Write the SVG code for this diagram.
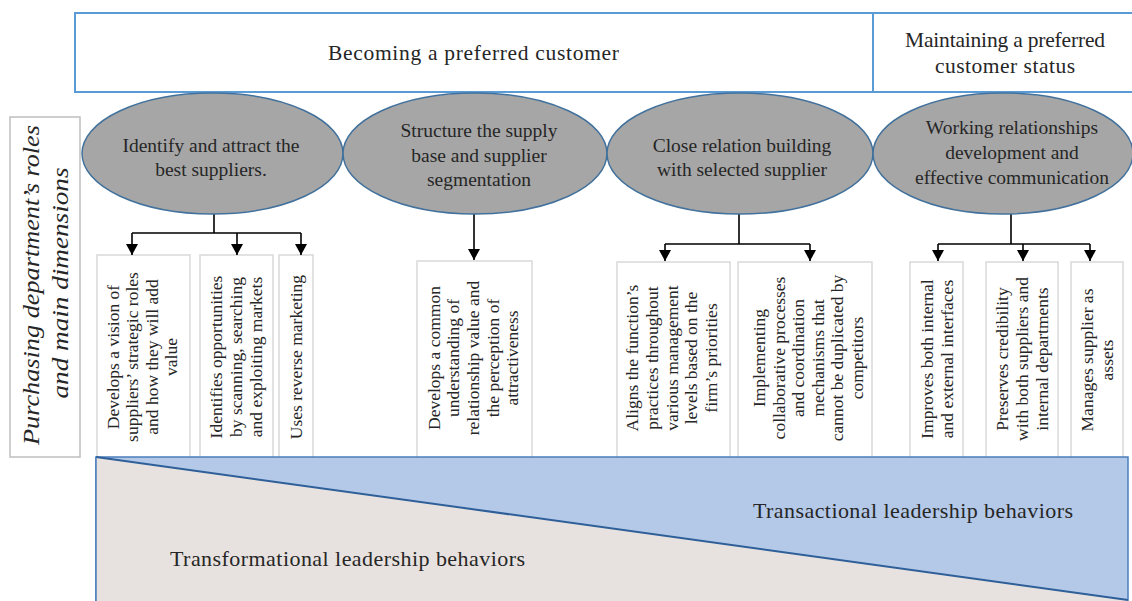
<svg xmlns="http://www.w3.org/2000/svg" width="1132" height="601" viewBox="0 0 1132 601">
<defs>
<marker id="arr" markerUnits="userSpaceOnUse" markerWidth="12" markerHeight="12" viewBox="0 0 12 12" refX="11" refY="6" orient="auto">
<path d="M0,0 L11,6 L0,12 Z" fill="#000"/>
</marker>
<style>
.t{font-family:"Liberation Serif","Times New Roman",serif;fill:#262626}
.hd{font-size:21.5px;text-anchor:middle}
.el{font-size:19.5px;text-anchor:middle}
.bx{font-size:17.5px;text-anchor:middle}
.bt{font-size:22px}
.ell{fill:#a6a6a6;stroke:#41719c;stroke-width:1.5}
.box{fill:#fff;stroke:#d9d9d9;stroke-width:1.5}
.conn{fill:none;stroke:#000;stroke-width:1.6}
</style>
</defs>
<rect width="1132" height="601" fill="#fff"/>

<g id="header">
<rect x="75" y="13" width="1070" height="79" fill="#fff" stroke="#5b9bd5" stroke-width="2"/>
<line x1="873" y1="13" x2="873" y2="92" stroke="#5b9bd5" stroke-width="2"/>
<text class="t hd" x="473.5" y="60" textLength="291" lengthAdjust="spacing">Becoming a preferred customer</text>
<text class="t hd" x="1005" y="47" textLength="200" lengthAdjust="spacing">Maintaining a preferred</text>
<text class="t hd" x="1005" y="73" textLength="140" lengthAdjust="spacing">customer status</text>
</g>

<g id="side-label">
<rect x="10" y="117" width="70" height="340" fill="#fff" stroke="#bfbfbf" stroke-width="1.5"/>
<text class="t" font-style="italic" font-size="23" text-anchor="middle" transform="translate(39,285) rotate(-90)" textLength="320" lengthAdjust="spacingAndGlyphs">Purchasing department’s roles</text>
<text class="t" font-style="italic" font-size="23" text-anchor="middle" transform="translate(68,283) rotate(-90)" textLength="231" lengthAdjust="spacingAndGlyphs">and main dimensions</text>
</g>

<g id="boxes">
<g id="b1"><rect class="box" x="97" y="255" width="93" height="205"/>
<text class="t bx" transform="translate(118.6,357) rotate(-90)">Develops a vision of</text>
<text class="t bx" transform="translate(138.2,357) rotate(-90)">suppliers’ strategic roles</text>
<text class="t bx" transform="translate(157.8,357) rotate(-90)">and how they will add</text>
<text class="t bx" transform="translate(177.4,357) rotate(-90)">value</text></g>
<g id="b2"><rect class="box" x="200" y="255" width="73" height="205"/>
<text class="t bx" transform="translate(222.4,357) rotate(-90)">Identifies opportunities</text>
<text class="t bx" transform="translate(242,357) rotate(-90)">by scanning, searching</text>
<text class="t bx" transform="translate(261.6,357) rotate(-90)">and exploiting markets</text></g>
<g id="b3"><rect class="box" x="279" y="255" width="34" height="205"/>
<text class="t bx" transform="translate(302,357) rotate(-90)">Uses reverse marketing</text></g>
<g id="b4"><rect class="box" x="417" y="261" width="115" height="199"/>
<text class="t bx" transform="translate(439.8,358) rotate(-90)">Develops a common</text>
<text class="t bx" transform="translate(459.4,358) rotate(-90)">understanding of</text>
<text class="t bx" transform="translate(479,358) rotate(-90)">relationship value and</text>
<text class="t bx" transform="translate(498.6,358) rotate(-90)">the perception of</text>
<text class="t bx" transform="translate(518.2,358) rotate(-90)">attractiveness</text></g>
<g id="b5"><rect class="box" x="617" y="262" width="113" height="198"/>
<text class="t bx" transform="translate(638.3,358) rotate(-90)">Aligns the function’s</text>
<text class="t bx" transform="translate(657.9,358) rotate(-90)">practices throughout</text>
<text class="t bx" transform="translate(677.5,358) rotate(-90)">various management</text>
<text class="t bx" transform="translate(697.1,358) rotate(-90)">levels based on the</text>
<text class="t bx" transform="translate(716.7,358) rotate(-90)">firm’s priorities</text></g>
<g id="b6"><rect class="box" x="738" y="262" width="134" height="198"/>
<text class="t bx" transform="translate(765,358) rotate(-90)">Implementing</text>
<text class="t bx" transform="translate(784.6,358) rotate(-90)">collaborative processes</text>
<text class="t bx" transform="translate(804.2,358) rotate(-90)">and coordination</text>
<text class="t bx" transform="translate(823.8,358) rotate(-90)">mechanisms that</text>
<text class="t bx" transform="translate(843.4,358) rotate(-90)">cannot be duplicated by</text>
<text class="t bx" transform="translate(863,358) rotate(-90)">competitors</text></g>
<g id="b7"><rect class="box" x="910" y="262" width="53" height="198"/>
<text class="t bx" transform="translate(933.2,359) rotate(-90)">Improves both internal</text>
<text class="t bx" transform="translate(952.8,359) rotate(-90)">and external interfaces</text></g>
<g id="b8"><rect class="box" x="986" y="262" width="72" height="198"/>
<text class="t bx" transform="translate(1008.4,359) rotate(-90)">Preserves credibility</text>
<text class="t bx" transform="translate(1028,359) rotate(-90)">with both suppliers and</text>
<text class="t bx" transform="translate(1047.6,359) rotate(-90)">internal departments</text></g>
<g id="b9"><rect class="box" x="1071" y="262" width="52" height="198"/>
<text class="t bx" transform="translate(1093.2,360) rotate(-90)">Manages supplier as</text>
<text class="t bx" transform="translate(1112.8,360) rotate(-90)">assets</text></g>
</g>

<g id="connectors">
<path class="conn" d="M214,214 V233 M132,233 H301"/>
<path class="conn" d="M132,233 V255" marker-end="url(#arr)"/>
<path class="conn" d="M237,233 V255" marker-end="url(#arr)"/>
<path class="conn" d="M301,233 V255" marker-end="url(#arr)"/>
<path class="conn" d="M474,214 V260" marker-end="url(#arr)"/>
<path class="conn" d="M739,214 V244 M665,244 H810"/>
<path class="conn" d="M665,244 V261" marker-end="url(#arr)"/>
<path class="conn" d="M810,244 V261" marker-end="url(#arr)"/>
<path class="conn" d="M1011,214 V244 M938,244 H1090"/>
<path class="conn" d="M938,244 V261" marker-end="url(#arr)"/>
<path class="conn" d="M1023,244 V261" marker-end="url(#arr)"/>
<path class="conn" d="M1090,244 V261" marker-end="url(#arr)"/>
</g>

<g id="e1"><ellipse class="ell" cx="212.5" cy="153.5" rx="130.5" ry="60.5"/>
<text class="t el" x="211" y="152">Identify and attract the</text>
<text class="t el" x="211" y="176">best suppliers.</text></g>
<g id="e2"><ellipse class="ell" cx="475" cy="153.5" rx="132" ry="60.5"/>
<text class="t el" x="479" y="137">Structure the supply</text>
<text class="t el" x="479" y="162">base and supplier</text>
<text class="t el" x="479" y="186">segmentation</text></g>
<g id="e3"><ellipse class="ell" cx="740" cy="153.5" rx="133" ry="60.5"/>
<text class="t el" x="742" y="152">Close relation building</text>
<text class="t el" x="742" y="176">with selected supplier</text></g>
<g id="e4"><ellipse class="ell" cx="1003" cy="153.5" rx="130" ry="60.5"/>
<text class="t el" x="1012" y="134">Working relationships</text>
<text class="t el" x="1012" y="159">development and</text>
<text class="t el" x="1012" y="184">effective communication</text></g>

<g id="leadership">
<rect x="96" y="457" width="1032" height="150" fill="#b4c9e8" stroke="#4a7ebb" stroke-width="1.5"/>
<polygon points="96,457 1128,600 1128,607 96,607" fill="#e7e2e0"/>
<line x1="96" y1="457" x2="1128" y2="600" stroke="#2e5f99" stroke-width="2"/>
<line x1="96" y1="457" x2="96" y2="607" stroke="#4a7ebb" stroke-width="1.5"/>
<text class="t bt" x="753" y="518" textLength="320" lengthAdjust="spacing">Transactional leadership behaviors</text>
<text class="t bt" x="170" y="566" textLength="355" lengthAdjust="spacing">Transformational leadership behaviors</text>
</g>
</svg>
